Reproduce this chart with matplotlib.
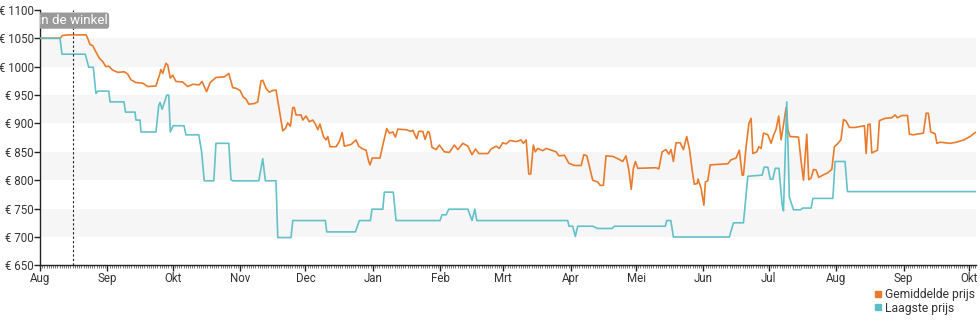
import matplotlib
matplotlib.use("Agg")
import matplotlib.pyplot as plt
import matplotlib.dates as mdates
from matplotlib.lines import Line2D
import pandas as pd

start_date = "2023-08-01"
end_offset = 430.3
store_day = 15
store_label = "in de winkel"
month_labels = ["Aug", "Sep", "Okt", "Nov", "Dec", "Jan", "Feb", "Mrt", "Apr",
                "Mei", "Jun", "Jul", "Aug", "Sep", "Okt"]
y_ticks = [650, 700, 750, 800, 850, 900, 950, 1000, 1050, 1100]
series_names = ["Gemiddelde prijs", "Laagste prijs"]

# Gemiddelde prijs (day offset from start, price)
avg_days = [0, 9.2, 10.4, 13.3, 21.2, 21.9, 23, 24.2, 25.7, 27.3,
            28.8, 30.3, 31.6, 33.4, 35.7, 38.8, 40.3, 41.8, 44.1, 47.2,
            49.5, 53.3, 54.9, 55.6, 56.4, 57.9, 58.7, 59.9, 61, 62.5,
            65.6, 67.9, 70.2, 73.2, 74.5, 75.5, 76.6, 78.2, 80.9, 84.7,
            86.8, 88.6, 90.1, 92, 93.5, 94.7, 96, 98.5, 100.1, 101.6,
            102.4, 103.9, 105.4, 107, 108.5, 110, 111.6, 112.8, 113.9, 115.1,
            116.2, 116.9, 117.7, 120, 120.8, 122.3, 123.8, 125.4, 126.6, 127.7,
            128.7, 130.3, 131.5, 132.3, 133.3, 136.1, 137.6, 138.9, 139.9, 143,
            145.3, 146.5, 148.4, 149.9, 151.1, 151.7, 152.7, 156.3, 157.6, 159.4,
            160.6, 162.2, 163.4, 164.5, 168.3, 170.6, 171.4, 173.2, 174.1, 176,
            177, 178.3, 179, 180.2, 182.1, 183.6, 185.9, 188.2, 190.5, 192.1,
            194.4, 196.7, 198.6, 200.2, 201.7, 205.9, 207.4, 209.7, 211.2, 212.7,
            214.3, 216.1, 218.9, 221.2, 222.2, 223.5, 224.7, 225.6, 226.8, 227.7,
            228.8, 231.1, 232.7, 235, 237.3, 238.5, 241.1, 243.1, 245.7, 248.8,
            250, 251.4, 252.6, 254.1, 256.4, 257.5, 259, 260.2, 263.3, 266.1,
            267.9, 269.4, 270.7, 271.8, 272.8, 273.7, 274.8, 283.2, 284.5, 286,
            287.8, 289.1, 290.1, 291.2, 292.4, 294.3, 295.8, 297.3, 298.6, 299.8,
            300.8, 302.1, 302.5, 303.9, 305.2, 305.9, 307, 308.1, 316.2, 317.7,
            320, 321.5, 322.8, 323.4, 324.6, 325.9, 326.9, 327.7, 329.5, 330.5,
            331.5, 332.6, 334.6, 336.1, 337.3, 338.4, 339.6, 340.7, 341.9, 343,
            343.8, 344.8, 348.7, 349.9, 351, 352.5, 353.4, 354.5, 355.6, 356.8,
            358, 359.9, 362.1, 364, 365.2, 366.6, 368.2, 369.4, 370.6, 372.1,
            374.7, 379, 379.8, 380.6, 381.6, 382.4, 385, 385.9, 388.5, 391.6,
            393.1, 394.2, 396.2, 398.8, 399.7, 401.5, 406.1, 407.4, 408.4, 409.5,
            411.5, 412.3, 413.8, 418.4, 421.3, 424.7, 427.6, 429.9]
avg_vals = [1050, 1050, 1055, 1056, 1056, 1050, 1039, 1037, 1026, 1015,
            1009, 1000, 1001, 994, 990, 991, 987, 977, 972, 971,
            965, 966, 985, 995, 988, 1006, 1003, 980, 985, 974,
            973, 965, 969, 968, 974, 965, 956, 972, 981, 982,
            988, 963, 962, 958, 946, 943, 934, 935, 938, 975,
            976, 962, 955, 958, 959, 924, 887, 891, 901, 895,
            928, 928, 915, 915, 906, 913, 903, 906, 899, 889,
            899, 877, 871, 877, 859, 859, 868, 884, 860, 863,
            871, 860, 855, 853, 833, 827, 839, 839, 862, 891,
            883, 885, 876, 890, 889, 886, 888, 873, 886, 886,
            872, 886, 884, 858, 854, 862, 850, 849, 862, 854,
            865, 860, 845, 855, 847, 847, 855, 860, 856, 866,
            864, 870, 868, 871, 865, 871, 811, 811, 862, 850,
            856, 852, 856, 853, 850, 843, 844, 830, 826, 826,
            845, 843, 824, 800, 797, 791, 791, 843, 842, 837,
            833, 843, 818, 784, 821, 833, 821, 822, 820, 850,
            854, 846, 854, 833, 866, 866, 854, 877, 854, 818,
            793, 794, 802, 786, 756, 797, 799, 827, 829, 836,
            839, 853, 809, 809, 859, 900, 909, 847, 850, 859,
            856, 883, 880, 865, 880, 890, 913, 871, 900, 928,
            889, 877, 876, 833, 800, 881, 801, 804, 819, 818,
            805, 809, 813, 819, 859, 864, 871, 907, 904, 893,
            893, 896, 847, 898, 899, 848, 853, 905, 909, 910,
            915, 910, 914, 914, 881, 880, 883, 918, 918, 885,
            882, 865, 867, 865, 867, 871, 877, 884]

# Laagste prijs (day offset from start, price)
low_days = [0, 9.2, 10.1, 20.8, 22.4, 24.5, 25.7, 26.7, 31.6, 32.2,
            38.6, 39.3, 43.7, 44.1, 46, 46.4, 53.3, 54.6, 55.2, 56.1,
            57.2, 58.3, 59.2, 59.9, 61.2, 66.2, 67.1, 73, 74.3, 75.5,
            79.9, 80.9, 86.8, 87.8, 88.6, 100.6, 102.4, 103.6, 108.5, 109.3,
            115.4, 116.2, 131.2, 131.8, 145, 146.8, 151.9, 152.6, 157.6, 158.3,
            162.4, 163.7, 183.9, 184.8, 186.7, 187.9, 196.7, 198.6, 199.9, 200.8,
            242.6, 243.2, 244.9, 246.1, 247.2, 254.1, 256.4, 263, 264.1, 287.5,
            288.1, 290, 291.2, 316.9, 318.8, 323.4, 325.4, 332, 332.9, 334.6,
            335.7, 336.9, 338, 339.7, 341.2, 341.8, 343.3, 344.5, 346.4, 349.6,
            350.7, 354.5, 355.3, 364.5, 365.5, 370.1, 371.2, 430.3]
low_vals = [1050, 1050, 1022, 1022, 999, 999, 953, 957, 957, 938,
            938, 920, 920, 906, 906, 885, 885, 932, 937, 925,
            937, 950, 950, 885, 896, 896, 880, 880, 850, 799,
            799, 865, 865, 801, 799, 799, 838, 799, 799, 699,
            699, 729, 729, 709, 709, 729, 729, 749, 749, 779,
            779, 729, 729, 739, 739, 749, 749, 729, 749, 729,
            729, 719, 719, 701, 719, 719, 715, 715, 719, 719,
            729, 729, 700, 700, 725, 725, 807, 809, 823, 823,
            802, 802, 821, 821, 756, 746, 938, 770, 748, 748,
            751, 751, 768, 768, 833, 833, 780, 780]

color_avg = "#e87b2c"
color_low = "#5bbec6"

plt.rcParams["font.family"] = ["Roboto", "DejaVu Sans"]

t0 = pd.Timestamp(start_date)
to_dates = lambda days: [t0 + pd.Timedelta(days=d) for d in days]

fig = plt.figure(figsize=(9.8, 3.25), dpi=100)
ax = fig.add_axes([40 / 980, 59.6 / 325, 936 / 980, 255.5 / 325])

x0 = t0
x1 = t0 + pd.Timedelta(days=end_offset)
ax.set_xlim(x0, x1)
ax.set_ylim(y_ticks[0], y_ticks[-1])

# alternating bands
for lo in y_ticks[1:-1:2]:
    ax.axhspan(lo, lo + 50, color="#f6f6f6", zorder=0, lw=0)

ax.plot(to_dates(avg_days), avg_vals, color=color_avg, lw=1.2, zorder=3)
ax.plot(to_dates(low_days), low_vals, color=color_low, lw=1.2, zorder=4, alpha=0.95)

store_date = t0 + pd.Timedelta(days=store_day)
ax.axvline(store_date, color="#222222", lw=0.8, ls=(0, (2, 2)), zorder=5)
ax.text(store_date, 0.958, store_label, transform=ax.get_xaxis_transform(),
        ha="center", va="center", color="white", fontsize=9.6, clip_on=True,
        zorder=6,
        bbox=dict(boxstyle="round,pad=0.12,rounding_size=0.2", fc="#9a9a9a", ec="none"))

ax.set_yticks(y_ticks)
ax.set_yticklabels([f"€ {v}" for v in y_ticks])
ax.xaxis.set_major_locator(mdates.MonthLocator())
ax.xaxis.set_major_formatter(mdates.DateFormatter("%m"))
ticks = ax.get_xticks()
ax.set_xticks(ticks)
ax.set_xticklabels(month_labels[:len(ticks)])
ax.xaxis.set_minor_locator(mdates.DayLocator())

for s in ["top", "right"]:
    ax.spines[s].set_visible(False)
for s in ["left", "bottom"]:
    ax.spines[s].set_color("#222222")
    ax.spines[s].set_linewidth(1.0)

ax.tick_params(axis="both", which="major", length=4, width=1, color="#222222",
               labelsize=8.3, labelcolor="#333333", pad=0.5)
ax.tick_params(axis="x", which="minor", length=2, width=0.5, color="#444444")
ax.tick_params(axis="x", which="major", pad=0.5)

handles = [Line2D([], [], marker="s", ls="none", color=color_avg, markersize=5),
           Line2D([], [], marker="s", ls="none", color=color_low, markersize=5)]
fig.legend(handles, series_names, loc="upper left",
           bbox_to_anchor=(874 / 980, 1 - 288 / 325), frameon=False,
           fontsize=8.7, handlelength=0.6, handletextpad=0.3,
           labelspacing=0.05, borderpad=0, borderaxespad=0, labelcolor="#333333")

fig.savefig("out.png", dpi=100)
